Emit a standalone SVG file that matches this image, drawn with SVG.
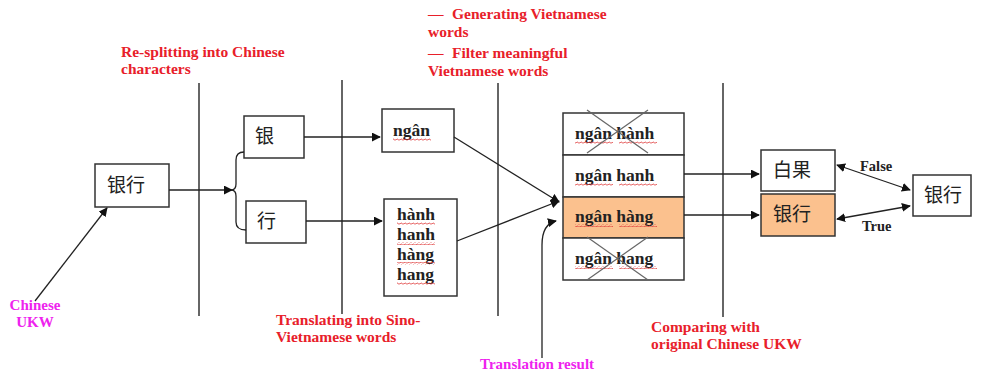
<svg xmlns="http://www.w3.org/2000/svg" width="984" height="372" viewBox="0 0 984 372">
<style>
.bg{fill:#ffffff}
.box{fill:#ffffff;stroke:#333;stroke-width:1.5}
.hl{fill:#fbc18e;stroke:#333;stroke-width:1.5}
.sep{stroke:#333;stroke-width:1.5;fill:none}
.ln{stroke:#222;stroke-width:1.3;fill:none}
.x{stroke:#666;stroke-width:1.2}
.vi{font-family:"Liberation Serif",serif;font-weight:bold;font-size:17.5px;fill:#222}
.zh{font-family:"Noto Sans CJK SC",sans-serif;font-size:19px;fill:#222}
.red{font-family:"Liberation Serif",serif;font-weight:bold;font-size:15.5px;fill:#e8202a}
.mag{font-family:"Liberation Serif",serif;font-weight:bold;font-size:15px;fill:#ee22ee}
.lab{font-family:"Liberation Serif",serif;font-weight:bold;font-size:14.5px;fill:#222}
.wv{fill:url(#wave)}
</style>
<defs>
<marker id="ah" viewBox="0 0 10 10" refX="9" refY="5" markerWidth="9" markerHeight="9" markerUnits="userSpaceOnUse" orient="auto-start-reverse">
<path d="M0,0 L10,5 L0,10 z" fill="#111"/>
</marker>
<pattern id="wave" width="4" height="3" patternUnits="userSpaceOnUse">
<path d="M0,2 Q1,0 2,1.5 T4,1.5" stroke="#e03a3a" stroke-width="0.8" fill="none"/>
</pattern>
</defs>
<rect class="bg" x="0" y="0" width="984" height="372"/>

<g id="separators">
<line class="sep" x1="199" y1="83" x2="199" y2="316"/>
<line class="sep" x1="342" y1="80" x2="342" y2="314"/>
<line class="sep" x1="498" y1="83" x2="498" y2="316"/>
<line class="sep" x1="723" y1="83" x2="723" y2="317"/>
</g>

<g id="labels">
<text class="red" x="121" y="57">Re-splitting into Chinese</text>
<text class="red" x="121" y="74">characters</text>
<text class="red" x="428" y="19">—</text>
<text class="red" x="452" y="19">Generating Vietnamese</text>
<text class="red" x="428" y="37">words</text>
<text class="red" x="428" y="58">—</text>
<text class="red" x="452" y="58">Filter meaningful</text>
<text class="red" x="428" y="76">Vietnamese words</text>
<text class="red" x="276" y="325">Translating into Sino-</text>
<text class="red" x="276" y="342">Vietnamese words</text>
<text class="red" x="651" y="332">Comparing with</text>
<text class="red" x="651" y="349">original Chinese UKW</text>
<text class="mag" x="35" y="310" text-anchor="middle">Chinese</text>
<text class="mag" x="35" y="327" text-anchor="middle">UKW</text>
<text class="mag" x="480" y="369">Translation result</text>
</g>

<g id="node-yinhang">
<rect class="box" x="95" y="164" width="74" height="43"/>
<text class="zh" x="107" y="192">银行</text>
</g>
<g id="node-yin">
<rect class="box" x="244" y="116" width="60" height="42"/>
<text class="zh" x="255" y="143">银</text>
</g>
<g id="node-hang">
<rect class="box" x="246" y="201" width="60" height="42"/>
<text class="zh" x="257" y="228">行</text>
</g>
<g id="node-ngan">
<rect class="box" x="382" y="109" width="72" height="43"/>
<text class="vi" x="393" y="136">ngân</text>
<rect class="wv" x="393" y="138" width="38" height="3"/>
</g>
<g id="node-hanh-list">
<rect class="box" x="384" y="199" width="73" height="97"/>
<text class="vi" x="397" y="220">hành</text>
<text class="vi" x="397" y="240">hanh</text>
<text class="vi" x="397" y="260">hàng</text>
<text class="vi" x="397" y="280">hang</text>
<rect class="wv" x="397" y="222" width="38" height="3"/>
<rect class="wv" x="397" y="242" width="38" height="3"/>
<rect class="wv" x="397" y="262" width="38" height="3"/>
<rect class="wv" x="397" y="282" width="38" height="3"/>
</g>
<g id="node-result1">
<rect class="box" x="563" y="113" width="121" height="42"/>
<text class="vi" x="575" y="139">ngân hành</text>
<rect class="wv" x="575" y="141" width="38" height="3"/>
<rect class="wv" x="619" y="141" width="38" height="3"/>
<line class="x" x1="587" y1="110" x2="648" y2="153"/>
<line class="x" x1="648" y1="110" x2="587" y2="153"/>
</g>
<g id="node-result2">
<rect class="box" x="563" y="155" width="121" height="42"/>
<text class="vi" x="575" y="181">ngân hanh</text>
<rect class="wv" x="575" y="183" width="38" height="3"/>
<rect class="wv" x="619" y="183" width="38" height="3"/>
</g>
<g id="node-result3">
<rect class="hl" x="563" y="197" width="121" height="41"/>
<text class="vi" x="575" y="222">ngân hàng</text>
<rect class="wv" x="575" y="224" width="38" height="3"/>
<rect class="wv" x="619" y="224" width="38" height="3"/>
</g>
<g id="node-result4">
<rect class="box" x="563" y="238" width="121" height="42"/>
<text class="vi" x="575" y="264">ngân hang</text>
<rect class="wv" x="575" y="266" width="38" height="3"/>
<rect class="wv" x="619" y="266" width="38" height="3"/>
<line class="x" x1="587" y1="237" x2="648" y2="280"/>
<line class="x" x1="648" y1="237" x2="587" y2="280"/>
</g>
<g id="node-baiguo">
<rect class="box" x="761" y="150" width="74" height="41"/>
<text class="zh" x="773" y="177">白果</text>
</g>
<g id="node-yinhang2">
<rect class="hl" x="761" y="194" width="74" height="42"/>
<text class="zh" x="773" y="221">银行</text>
</g>
<g id="node-original">
<rect class="box" x="913" y="175" width="58" height="41"/>
<text class="zh" x="924" y="202">银行</text>
</g>

<g id="connectors">
<line class="ln" x1="35" y1="301" x2="107" y2="208" marker-end="url(#ah)"/>
<line class="ln" x1="169" y1="190" x2="232" y2="190" marker-end="url(#ah)"/>
<path class="ln" d="M244,152 Q236,152 236,160 L236,184 Q236,190 231,190 Q236,190 236,196 L236,222 Q236,230 246,230"/>
<line class="ln" x1="304" y1="137" x2="380" y2="137" marker-end="url(#ah)"/>
<line class="ln" x1="306" y1="221" x2="382" y2="221" marker-end="url(#ah)"/>
<line class="ln" x1="454" y1="137" x2="559" y2="202" marker-end="url(#ah)"/>
<line class="ln" x1="457" y1="241" x2="559" y2="201" marker-end="url(#ah)"/>
<path class="ln" d="M542,358 L542,245 Q542,224 556,221" marker-end="url(#ah)"/>
<line class="ln" x1="684" y1="174" x2="759" y2="174" marker-end="url(#ah)"/>
<line class="ln" x1="684" y1="215" x2="759" y2="215" marker-end="url(#ah)"/>
<line class="ln" x1="837" y1="165" x2="910" y2="190" marker-start="url(#ah)" marker-end="url(#ah)"/>
<line class="ln" x1="837" y1="219" x2="910" y2="206" marker-start="url(#ah)" marker-end="url(#ah)"/>
<text class="lab" x="860" y="171">False</text>
<text class="lab" x="862" y="231">True</text>
</g>
</svg>
